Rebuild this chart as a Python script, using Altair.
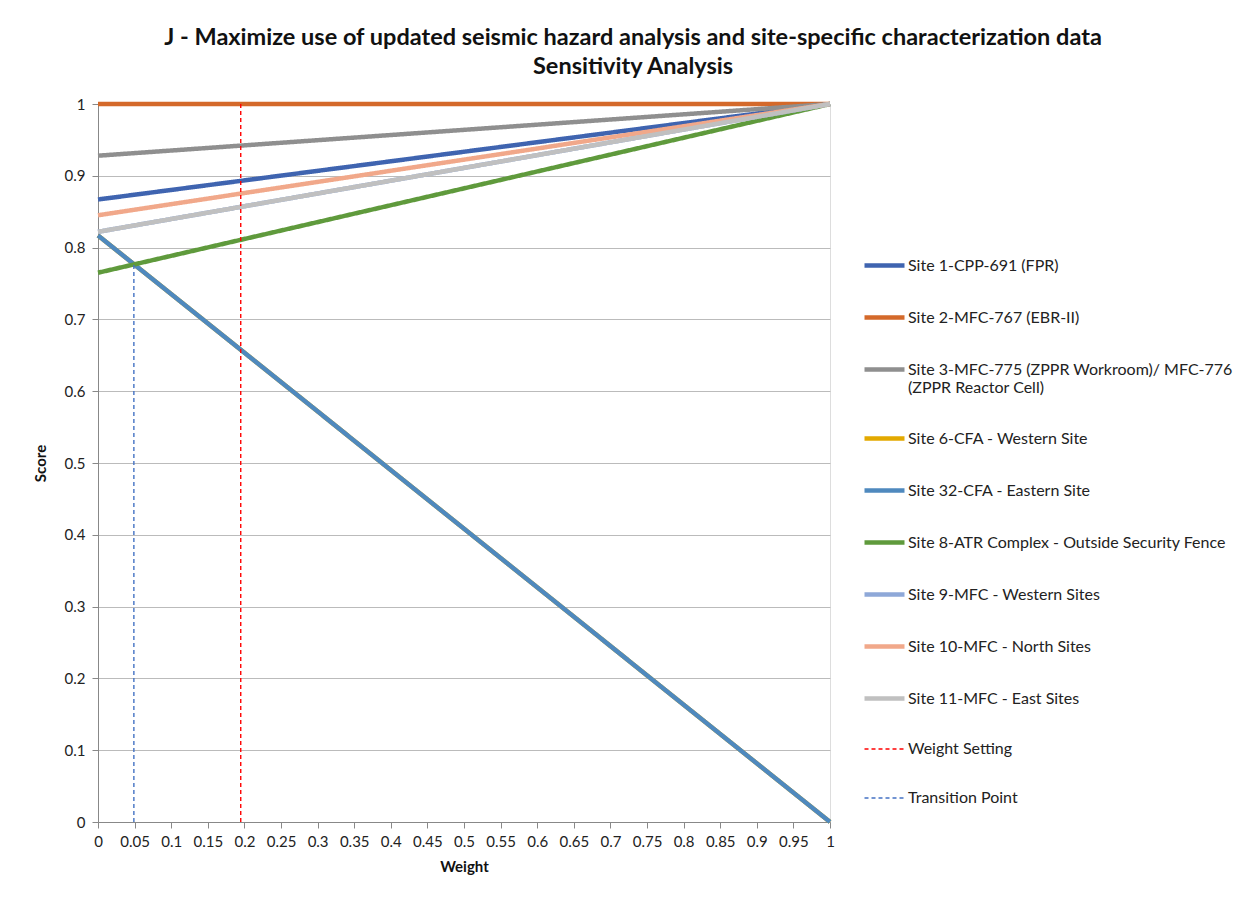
import altair as alt
import pandas as pd

# ---- data ----
series_names = [
    "Site 1-CPP-691 (FPR)",
    "Site 2-MFC-767 (EBR-II)",
    "Site 3-MFC-775 (ZPPR Workroom)/ MFC-776 (ZPPR Reactor Cell)",
    "Site 6-CFA - Western Site",
    "Site 32-CFA - Eastern Site",
    "Site 8-ATR Complex - Outside Security Fence",
    "Site 9-MFC - Western Sites",
    "Site 10-MFC - North Sites",
    "Site 11-MFC - East Sites",
    "Weight Setting",
    "Transition Point",
]
series_colors = [
    "#3F64B0", "#D4692A", "#8F8F8F", "#E3A900", "#4F89BE",
    "#5F9A3C", "#8EA8D8", "#F1A88A", "#C0C0C0", "#FF0000", "#4472C4",
]
# score at weight 0 and weight 1
site_x0 = [0.0] * 9
site_x1 = [1.0] * 9
site_y0 = [0.867, 1.0, 0.928, 0.817, 0.817, 0.765, 0.822, 0.845, 0.822]
site_y1 = [1.0, 1.0, 1.0, 0.0, 0.0, 1.0, 1.0, 1.0, 1.0]

weight_setting = 0.195
transition_point = 0.049
transition_score = 0.777

x_ticks = [round(i * 0.05, 2) for i in range(21)]
y_ticks = [round(i * 0.1, 1) for i in range(11)]

rows = []
for i in range(9):
    rows.append({"series": series_names[i], "weight": site_x0[i], "score": site_y0[i], "idx": i})
    rows.append({"series": series_names[i], "weight": site_x1[i], "score": site_y1[i], "idx": i})
rows.append({"series": "Weight Setting", "weight": weight_setting, "score": 0.0, "idx": 9})
rows.append({"series": "Weight Setting", "weight": weight_setting, "score": 1.0, "idx": 9})
rows.append({"series": "Transition Point", "weight": transition_point, "score": 0.0, "idx": 10})
rows.append({"series": "Transition Point", "weight": transition_point, "score": transition_score, "idx": 10})
df = pd.DataFrame(rows)

dash_range = [[1, 0]] * 9 + [[4, 3], [4, 3]]
width_range = [4.5] * 9 + [1.4, 1.4]

FONT = "Lato"

legend = alt.Legend(
    title=None,
    orient="none",
    legendX=764,
    legendY=139,
    symbolType="stroke",
    symbolSize=1600,
    labelFont=FONT,
    labelFontSize=16,
    labelColor="#222222",
    labelLimit=420,
    rowPadding=20,
    labelOffset=1,
    labelExpr="datum.label == 'Site 3-MFC-775 (ZPPR Workroom)/ MFC-776 (ZPPR Reactor Cell)' ? ['Site 3-MFC-775 (ZPPR Workroom)/ MFC-776', '(ZPPR Reactor Cell)'] : datum.label",
)

chart = (
    alt.Chart(df)
    .mark_line(clip=False)
    .encode(
        x=alt.X(
            "weight:Q",
            scale=alt.Scale(domain=[0, 1], nice=False),
            axis=alt.Axis(
                title="Weight",
                values=x_ticks,
                format=".2~f",
                grid=False,
                tickSize=6,
                tickColor="#888888",
                domainColor="#888888",
                labelFont=FONT,
                labelFontSize=15,
                labelColor="#222222",
                labelPadding=6,
                labelFlush=False,
                labelOverlap=False,
                titleFont=FONT,
                titleFontSize=15,
                titleFontWeight="bold",
                titlePadding=10,
                titleColor="#111111",
            ),
        ),
        y=alt.Y(
            "score:Q",
            scale=alt.Scale(domain=[0, 1], nice=False),
            axis=alt.Axis(
                title="Score",
                values=y_ticks,
                format=".1~f",
                grid=True,
                gridColor="#BBBBBB",
                tickSize=6,
                tickColor="#888888",
                domainColor="#888888",
                labelFont=FONT,
                labelFontSize=15,
                labelColor="#222222",
                labelPadding=7,
                titleFont=FONT,
                titleFontSize=15,
                titleFontWeight="bold",
                titlePadding=16,
                titleColor="#111111",
            ),
        ),
        color=alt.Color(
            "series:N",
            scale=alt.Scale(domain=series_names, range=series_colors),
            legend=legend,
        ),
        strokeDash=alt.StrokeDash(
            "series:N",
            scale=alt.Scale(domain=series_names, range=dash_range),
            legend=legend,
        ),
        strokeWidth=alt.StrokeWidth(
            "series:N",
            scale=alt.Scale(type="ordinal", domain=series_names, range=width_range),
            legend=legend,
        ),
        detail="idx:O",
    )
    .properties(
        width=732,
        height=718,
        autosize=alt.AutoSizeParams(type="none"),
        padding={"left": 90, "top": 96, "right": 411, "bottom": 77},
        title=alt.Title(
            text=[
                "J - Maximize use of updated seismic hazard analysis and site-specific characterization data",
                "Sensitivity Analysis",
            ],
            font=FONT,
            fontSize=23.5,
            fontWeight="bold",
            lineHeight=29,
            anchor="middle",
            frame="bounds",
            offset=17,
            color="#111111",
        ),
    )
    .configure_view(stroke=None)
    .configure(background="white")
)

chart.save("out.html", embed_options={"renderer": "svg", "actions": False})
